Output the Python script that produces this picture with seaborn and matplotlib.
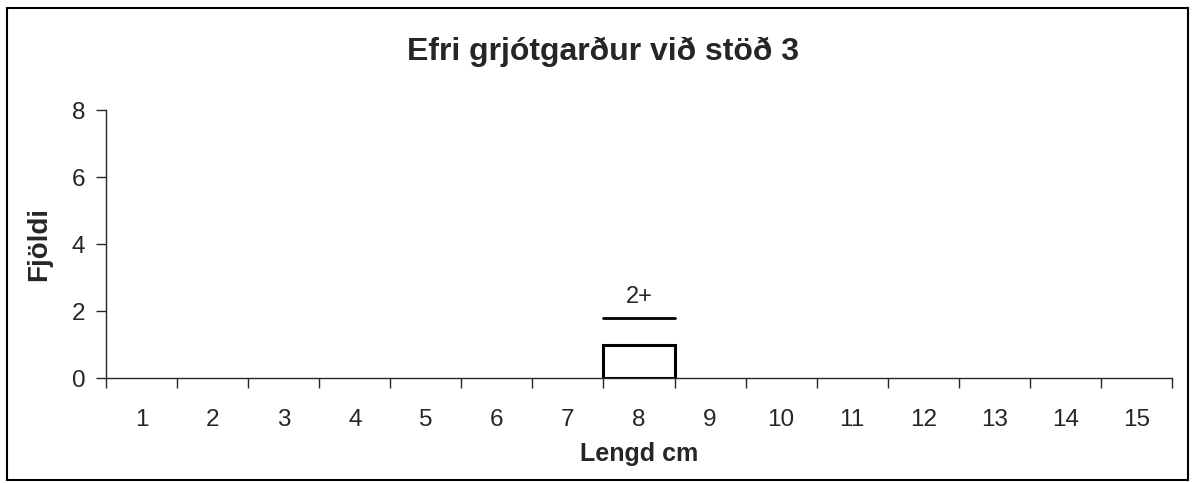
import numpy as np
import pandas as pd
import matplotlib
matplotlib.use('Agg')
import matplotlib.pyplot as plt
import seaborn as sns
from matplotlib.patches import Rectangle
from matplotlib.ticker import FixedLocator

lengd = [str(i) for i in range(1, 16)]
fjoldi = [0, 0, 0, 0, 0, 0, 0, 1, 0, 0, 0, 0, 0, 0, 0]
aldur_label = '2+'
aldur_lengd = '8'
aldur_y = 1.8

sns.set_style('white')
plt.rcParams['font.family'] = ['Liberation Sans', 'DejaVu Sans']

df = pd.DataFrame({'lengd': lengd, 'fjoldi': fjoldi})

fig = plt.figure(figsize=(11.94, 4.83), dpi=100)
ax = fig.add_axes([0.0888, 0.217, 0.8928, 0.555])
sns.barplot(data=df, x='lengd', y='fjoldi', order=lengd, ax=ax, width=1.0,
            color='white', edgecolor='black', linewidth=2.2)

# hide zero-height bars' edges
for p in ax.patches:
    if p.get_height() == 0:
        p.set_edgecolor('none')

ax.set_xlim(-0.5, len(lengd) - 0.5)
ax.set_ylim(0, 8)
ax.set_yticks([0, 2, 4, 6, 8])
ax.xaxis.set_minor_locator(FixedLocator(np.arange(-0.5, len(lengd), 1.0)))
ax.tick_params(axis='x', which='major', length=0, pad=22, labelsize=17.5)
ax.tick_params(axis='x', which='minor', length=7, width=1, direction='out', bottom=True)
ax.tick_params(axis='y', length=7, width=1, direction='out', left=True, labelsize=17.5, pad=8)
ax.spines['top'].set_visible(False)
ax.spines['right'].set_visible(False)
ax.spines['left'].set_linewidth(1)
ax.spines['bottom'].set_linewidth(1)

# age group marker
xi = lengd.index(aldur_lengd)
ax.plot([xi - 0.5, xi + 0.5], [aldur_y, aldur_y], color='black', lw=2, clip_on=False)
ax.text(xi, aldur_y + 0.3, aldur_label, ha='center', va='bottom', fontsize=17)

ax.set_xlabel('Lengd cm', fontsize=18, fontweight='bold', labelpad=8)
ax.set_ylabel('Fjöldi', fontsize=20, fontweight='bold', labelpad=14)
fig.text(0.505, 0.893, 'Efri grjótgarður við stöð 3', ha='center', va='center',
         fontsize=23, fontweight='bold')

fig.patches.append(Rectangle((0.006, 0.006), 0.989, 0.978, transform=fig.transFigure,
                             fill=False, edgecolor='black', lw=1.5))

fig.savefig('out.png', dpi=100)
